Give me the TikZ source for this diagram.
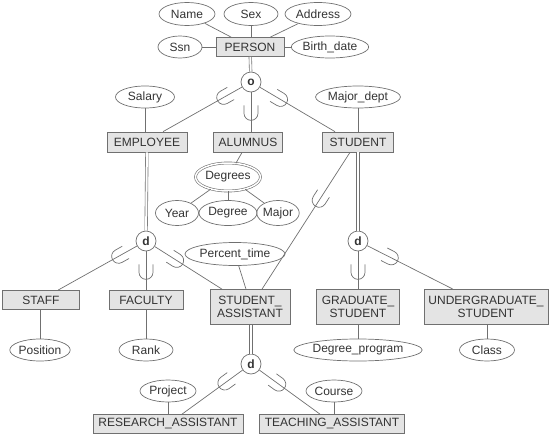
\documentclass[tikz,border=0pt]{standalone}
\usepackage{fontspec}
\setmainfont{Liberation Sans}
\usetikzlibrary{shapes.geometric,decorations.markings}
\definecolor{boxfill}{HTML}{E4E4E4}
\definecolor{edgec}{HTML}{707070}
\definecolor{txt}{HTML}{333333}
\begin{document}
\begin{tikzpicture}[x=1pt,y=-1pt,
  font=\fontsize{12}{13.5}\selectfont, text=txt,
  ent/.style={draw=edgec, fill=boxfill, line width=0.7pt, minimum width=#1, minimum height=19pt, inner sep=1pt, align=center},
  ent2/.style={ent=#1, minimum height=35pt},
  att/.style={draw=edgec, ellipse, line width=0.7pt, minimum width=#1, minimum height=22pt, inner sep=0pt},
  circ/.style={draw=edgec, circle, line width=0.7pt, minimum size=20pt, inner sep=0pt, fill=white, font=\bfseries\fontsize{12}{12}\selectfont},
  con/.style={draw=edgec, line width=0.7pt},
  dbl/.style={draw=edgec, double=white, double distance=2pt, line width=0.6pt},
  sub/.style={postaction={decorate, decoration={markings, mark=at position #1 with {\draw[edgec, line width=0.7pt] (-8,7) -- (0,7) arc(90:-90:7) -- (-8,-7);}}}}
]
\useasboundingbox (0,0) rectangle (550,434);

% entities
\node[ent=68pt] (person) at (250,47) {PERSON};
\node[ent=80pt, minimum height=20pt] (emp) at (147,142) {EMPLOYEE};
\node[ent=69pt, minimum height=20pt] (alum) at (248,142) {ALUMNUS};
\node[ent=71pt, minimum height=20pt] (stud) at (358,142) {STUDENT};
\node[ent=77pt] (staff) at (41,300) {STAFF};
\node[ent=74pt] (fac) at (146,300) {FACULTY};
\node[ent2=80pt] (sa) at (250,307) {STUDENT\_\\ASSISTANT};
\node[ent2=83pt] (grad) at (358,307) {GRADUATE\_\\STUDENT};
\node[ent2=124pt] (ugrad) at (486,307) {UNDERGRADUATE\_\\STUDENT};
\node[ent=150pt] (ra) at (168,424) {RESEARCH\_ASSISTANT};
\node[ent=145pt] (ta) at (332,424) {TEACHING\_ASSISTANT};

% attributes
\node[att=56pt, minimum height=23pt] (name) at (187,14) {Name};
\node[att=54pt, minimum height=23pt] (sex) at (251,14) {Sex};
\node[att=66pt, minimum height=23pt] (addr) at (318,14) {Address};
\node[att=44pt] (ssn) at (180,47) {Ssn};
\node[att=70pt] (bdate) at (330,47) {Birth\_date};
\node[att=59pt] (salary) at (145,97) {Salary};
\node[att=83pt] (mdept) at (358,97) {Major\_dept};
\node[att=65pt, minimum height=28pt, double=white, double distance=1.5pt, line width=0.6pt] (degrees) at (228,177) {Degrees};
\node[att=43pt, minimum height=25pt] (year) at (177,213) {Year};
\node[att=58pt, minimum height=25pt] (degree) at (228,213) {Degree};
\node[att=40pt, minimum height=25pt] (major) at (278,213) {Major};
\node[att=84pt, minimum height=23pt] (pct) at (235,254) {Percent\_time};
\node[att=54pt] (position) at (40,350) {Position};
\node[att=54pt] (rank) at (146,350) {Rank};
\node[att=109pt] (dprog) at (358,350) {Degree\_program};
\node[att=55pt] (class) at (487,350) {Class};
\node[att=56pt] (project) at (168,391) {Project};
\node[att=56pt] (course) at (334,391) {Course};

% specialization circles
\node[circ] (o) at (251,82) {o};
\node[circ] (d1) at (146,241) {d};
\node[circ] (d2) at (358,241) {d};
\node[circ] (d3) at (251,364) {d};

% attribute connectors
\draw[con] (name) -- (person);
\draw[con] (sex) -- (sex |- person.north);
\draw[con] (addr) -- (person);
\draw[con] (ssn) -- (person);
\draw[con] (bdate) -- (person);
\draw[con] (salary) -- (salary |- emp.north);
\draw[con] (mdept) -- (mdept |- stud.north);
\draw[con] (alum) -- (degrees);
\draw[con] (degrees) -- (year);
\draw[con] (degrees) -- (degree);
\draw[con] (degrees) -- (major);
\draw[con] (pct) -- ([xshift=-4pt]sa.north);
\draw[con] (staff.south -| position) -- (position);
\draw[con] (fac) -- (rank);
\draw[con] (grad) -- (dprog);
\draw[con] (ugrad.south -| class) -- (class);
\draw[con] (project) -- (project |- ra.north);
\draw[con] (course) -- (course |- ta.north);

% specialization connectors
\draw[dbl] (person) -- (o);
\draw[con, sub=21pt] (o) -- ([xshift=16pt]emp.north);
\draw[con, sub=21pt] (o) -- (o |- alum.north);
\draw[con, sub=24pt] (o) -- ([xshift=-23pt]stud.north);

\draw[dbl] (emp) -- (d1);
\draw[con, sub=21pt] (d1) -- ([xshift=17pt]staff.north);
\draw[con, sub=21pt] (d1) -- (fac);
\draw[con, sub=26pt] (d1) -- ([xshift=-28pt]sa.north);

\draw[con, sub=57pt] ([xshift=-8pt]stud.south) -- ([xshift=12pt]sa.north);

\draw[dbl] (stud) -- (d2);
\draw[con, sub=21pt] (d2) -- (grad);
\draw[con, sub=27pt] (d2) -- ([xshift=-33pt]ugrad.north);

\draw[dbl] (d3 |- sa.south) -- (d3);
\draw[con, sub=22pt] (d3) -- ([xshift=14pt]ra.north);
\draw[con, sub=24pt] (d3) -- ([xshift=-12pt]ta.north);
\end{tikzpicture}
\end{document}
